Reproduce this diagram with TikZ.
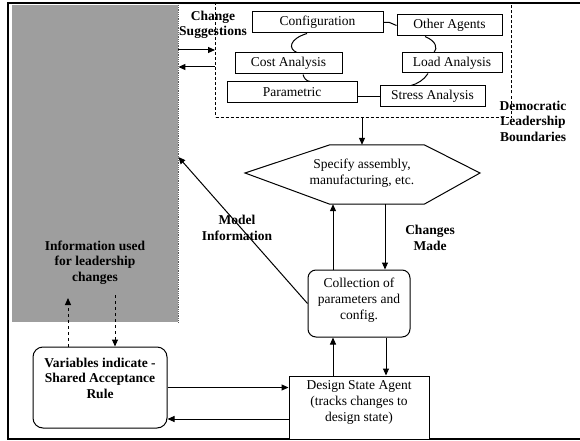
\documentclass[tikz,border=0pt]{standalone}
\usepackage{fontspec}
\setmainfont{Liberation Serif}
\usetikzlibrary{arrows.meta,calc}
\begin{document}
\begin{tikzpicture}[x=1pt,y=-1pt,
  font=\fontsize{13.5}{16}\selectfont,
  box/.style={draw, line width=1pt, fill=white, inner sep=0pt},
  rbox/.style={box, rounded corners=8pt},
  txt/.style={align=center, inner sep=0pt},
  btxt/.style={txt, font=\fontsize{13.5}{15.5}\selectfont\bfseries},
  arr/.style={line width=1pt, -{Triangle[length=7pt,width=6pt]}},
  ln/.style={line width=1pt},
  dbound/.style={draw, line width=1pt, dash pattern=on 3pt off 2pt},
]
\useasboundingbox (0,0) rectangle (580,441);
\fill[white] (0,0) rectangle (580,441);
% grey region
\node[fill=black!38, minimum width=166, minimum height=317, inner sep=0pt, anchor=north west] (gray) at (12,5) {};
\draw[densely dotted, black!65, line width=0.8pt] (gray.north east) -- (gray.south east);
% democratic boundary
\node[dbound, minimum width=296, minimum height=114, inner sep=0pt, anchor=north west] (dbox) at (215,3) {};
% frame
\draw[line width=1.6pt] (580,3) -- (8,3) -- (8,439) -- (580,439);
% agent boxes
\node[box, minimum width=131, minimum height=21] (conf) at (317.5,22.5) {Configuration};
\node[box, minimum width=105, minimum height=21] (other) at (449.5,25.5) {Other Agents};
\node[box, minimum width=107, minimum height=21] (cost) at (288.5,63.5) {Cost Analysis};
\node[box, minimum width=100, minimum height=20] (load) at (452,63) {Load Analysis};
\node[box, minimum width=130, minimum height=21] (param) at (292,92.5) {Parametric};
\node[box, minimum width=105, minimum height=21] (stress) at (432.5,96.5) {Stress Analysis};
% ring connections
\draw[ln] (conf.south -| 307,0) .. controls (289,39) and (288,49) .. (cost.north -| 297,0);
\draw[ln] (cost.south -| 303,0) .. controls (304,78) and (306,81) .. (param.north -| 310,0);
\draw[ln] (other.south -| 425,0) .. controls (436,41) and (438,48) .. (load.north -| 434,0);
\draw[ln] (load.south -| 428,0) .. controls (424,80) and (417,84) .. (stress.north -| 411,0);
\draw[ln] (conf.east) -- ++(6,0) -- (other.west);
\draw[ln] (param.east |- stress.west) -- (stress.west);
% hexagon
\node[minimum width=94, minimum height=59, inner sep=0pt] (hex) at (377,174.5) {};
\draw[ln] (hex.north west) -- (hex.north east) -- (480,173) -- (hex.south east) -- (hex.south west) -- (245,173) -- cycle;
\node[txt] (hext) at (362,173) {Specify assembly,\\manufacturing, etc.};
% collection, DSA, variables
\node[rbox, minimum width=102, minimum height=67] (coll) at (359,303.5) {};
\node[txt] (collt) at (359,300) {Collection of\\parameters and\\config.};
\node[box, minimum width=140, minimum height=63] (dsa) at (359,407.5) {};
\node[txt] (dsat) at (359,402.5) {Design State Agent\\(tracks changes to\\design state)};
\node[rbox, rounded corners=10pt, minimum width=134, minimum height=81] (var) at (100,387.5) {};
\node[btxt] (vart) at (100,378) {Variables indicate -\\Shared Acceptance\\Rule};
% labels
\node[btxt] (chs) at (213,25) {Change\\Suggestions};
\node[btxt] (dem) at (533,121) {Democratic\\Leadership\\Boundaries};
\node[btxt] (chm) at (430,238) {Changes\\Made};
\node[btxt] (mi) at (237,228) {Model\\Information};
\node[btxt] (info) at (95,262.5) {Information used\\for leadership\\changes};
% arrows
\draw[arr] (gray.east |- 0,50) -- (dbox.west |- 0,50);
\draw[arr] (dbox.west |- 0,67) -- (gray.east |- 0,67);
\draw[arr] (dbox.south -| hext) -- (hex.north -| hext);
\draw[arr] (coll.north -| 333,0) -- (hex.south -| 333,0);
\draw[arr] (hex.south -| 385,0) -- (coll.north -| 385,0);
\draw[arr] (dsa.north -| 333,0) -- (coll.south -| 333,0);
\draw[arr] (coll.south -| 386,0) -- (dsa.north -| 386,0);
\draw[arr] (coll.west) -- (gray.east |- 0,157);
\draw[arr] (var.east) -- (var.east -| dsa.west);
\draw[arr] (dsa.west |- 0,419) -- (var.east |- 0,419);
\coordinate (ia) at (68,298);
\coordinate (ib) at (115,295);
\draw[arr, dashed] (var.north -| ia) -- (ia);
\draw[arr, dashed] (ib) -- (var.north -| ib);
\end{tikzpicture}
\end{document}
